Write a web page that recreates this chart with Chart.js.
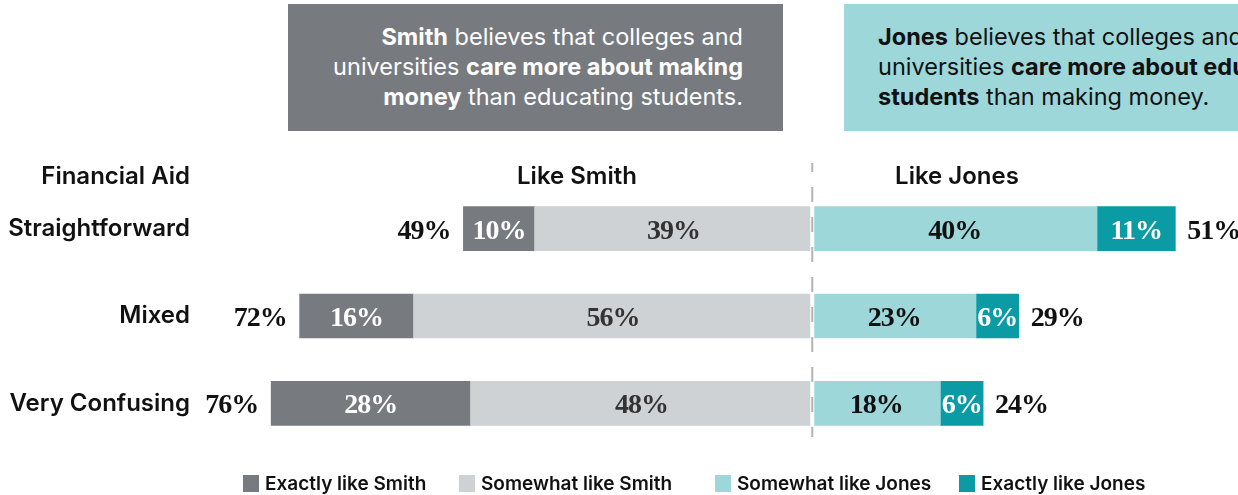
<!DOCTYPE html>
<html>
<head>
<meta charset="utf-8">
<script src="https://cdn.jsdelivr.net/npm/chart.js@4.4.1/dist/chart.umd.min.js"></script>
<style>
  html, body { margin: 0; padding: 0; background: #fff; width: 1238px; height: 495px; overflow: hidden; }
  #wrap { position: relative; width: 1238px; height: 495px; overflow: hidden; }
  #chart { position: absolute; left: 0; top: 0; }
  .box { position: absolute; top: 4px; height: 127px; box-sizing: border-box; padding-top: 18px;
         font-family: Inter, sans-serif; font-size: 23.5px; line-height: 30px; white-space: nowrap; }
  .box b { font-weight: 700; }
  #smith-box { left: 288px; width: 495px; background: #777b7f; color: #fff; text-align: right; padding-right: 40px; }
  #jones-box { left: 844px; width: 560px; background: #9dd7da; color: #111; text-align: left; padding-left: 34px; }
  .head { position: absolute; top: 161px; font-family: Inter, sans-serif; font-weight: 600; font-size: 24px; color: #111; white-space: nowrap; }
  .mid { transform: translateX(-50%); }
</style>
</head>
<body>
<div id="wrap">
  <canvas id="chart" width="1238" height="495"></canvas>
  <div class="box" id="smith-box"><b>Smith</b> believes that colleges and<br>universities <b>care more about making<br>money</b> than educating students.</div>
  <div class="box" id="jones-box"><b>Jones</b> believes that colleges and<br>universities <b>care more about educating<br>students</b> than making money.</div>
  <div class="head" style="right: 1048px;">Financial Aid</div>
  <div class="head mid" style="left: 577px;">Like Smith</div>
  <div class="head mid" style="left: 957px;">Like Jones</div>
</div>
<script>
const categories = ["Straightforward", "Mixed", "Very Confusing"];
const exactlySmith = [10, 16, 28];
const somewhatSmith = [39, 56, 48];
const somewhatJones = [40, 23, 18];
const exactlyJones = [11, 6, 6];

const colors = {
  exactlySmith: "#777b7f",
  somewhatSmith: "#cfd2d4",
  somewhatJones: "#9dd7da",
  exactlyJones: "#0a9ba5",
};

// stacking runs outward from zero, so the "somewhat" sets come first
const datasets = [
  { label: "Somewhat like Smith", data: somewhatSmith.map((v) => -v), backgroundColor: colors.somewhatSmith, textColor: "#333333" },
  { label: "Exactly like Smith", data: exactlySmith.map((v) => -v), backgroundColor: colors.exactlySmith, textColor: "#ffffff" },
  { label: "Somewhat like Jones", data: somewhatJones, backgroundColor: colors.somewhatJones, textColor: "#111111" },
  { label: "Exactly like Jones", data: exactlyJones, backgroundColor: colors.exactlyJones, textColor: "#ffffff" },
];
const legendOrder = [1, 0, 2, 3];

const valueFont = "bold 28px 'Liberation Serif', serif";

const divergingLabels = {
  id: "divergingLabels",
  afterDatasetsDraw(chart) {
    const ctx = chart.ctx;
    const area = chart.chartArea;
    const x0 = chart.scales.x.getPixelForValue(0);
    ctx.save();

    // white gap between the two sides, then the dashed divider
    ctx.fillStyle = "#fff";
    ctx.fillRect(x0 - 2, area.top, 4, area.bottom - area.top);
    ctx.strokeStyle = "#b4b4b4";
    ctx.lineWidth = 2;
    ctx.setLineDash([15, 15]);
    ctx.lineDashOffset = 6;
    ctx.beginPath();
    ctx.moveTo(x0, 163);
    ctx.lineTo(x0, 437);
    ctx.stroke();
    ctx.setLineDash([]);

    ctx.font = valueFont;
    ctx.letterSpacing = "-1px";
    ctx.textBaseline = "alphabetic";

    // segment values
    chart.data.datasets.forEach((ds, i) => {
      const meta = chart.getDatasetMeta(i);
      meta.data.forEach((bar, j) => {
        const cx = (bar.x + bar.base) / 2;
        ctx.fillStyle = ds.textColor;
        ctx.textAlign = "center";
        ctx.fillText(Math.abs(ds.data[j]) + "%", cx, bar.y + 10);
      });
    });

    // totals at the outer ends
    categories.forEach((c, j) => {
      const left = chart.getDatasetMeta(1).data[j];
      const right = chart.getDatasetMeta(3).data[j];
      ctx.fillStyle = "#111";
      ctx.textAlign = "right";
      ctx.fillText((exactlySmith[j] + somewhatSmith[j]) + "%", left.x - 13, left.y + 10);
      ctx.textAlign = "left";
      ctx.fillText((exactlyJones[j] + somewhatJones[j]) + "%", right.x + 12, right.y + 10);
    });
    ctx.restore();
  },
  afterDraw(chart, args, opts) {
    const ctx = chart.ctx;
    ctx.save();
    ctx.font = "600 19px Inter, sans-serif";
    ctx.textAlign = "left";
    ctx.textBaseline = "middle";
    legendOrder.forEach((idx, k) => {
      const ds = chart.data.datasets[idx];
      const x = opts.itemX[k];
      ctx.fillStyle = ds.backgroundColor;
      ctx.fillRect(x, opts.y - 8, 16, 17);
      ctx.fillStyle = "#111";
      ctx.fillText(ds.label, x + 22, opts.y + 1);
    });
    ctx.restore();
  },
};

new Chart(document.getElementById("chart"), {
  type: "bar",
  data: { labels: categories, datasets: datasets },
  options: {
    responsive: false,
    animation: false,
    indexAxis: "y",
    layout: { padding: { top: 185, bottom: 48, left: 0, right: 0 } },
    datasets: { bar: { barThickness: 44, borderWidth: 0 } },
    scales: {
      x: { type: "linear", stacked: true, min: -87.4, max: 59.8, display: false },
      y: {
        stacked: true,
        grid: { display: false, drawTicks: false },
        border: { display: false },
        ticks: { color: "#111", padding: 0, font: { family: "Inter", weight: "600", size: 24 } },
        afterFit(scale) { scale.width = 190; },
      },
    },
    plugins: {
      legend: { display: false },
      tooltip: { enabled: false },
      divergingLabels: { itemX: [243, 459, 715, 959], y: 483 },
    },
  },
  plugins: [divergingLabels],
});
</script>
</body>
</html>
